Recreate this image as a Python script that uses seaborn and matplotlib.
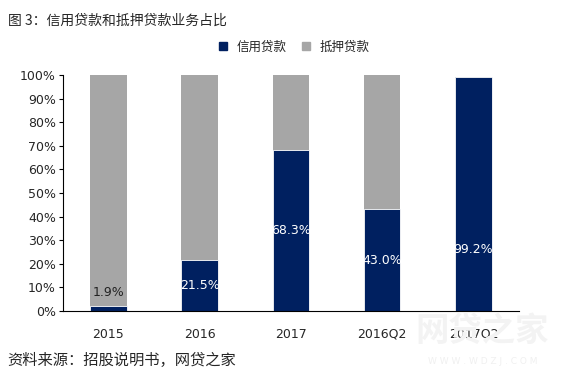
import numpy as np
import pandas as pd
import matplotlib.pyplot as plt
import seaborn as sns
from matplotlib.lines import Line2D

periods = ['2015', '2016', '2017', '2016Q2', '2017Q2']
credit = [1.9, 21.5, 68.3, 43.0, 99.2]
mortgage = [98.1, 78.5, 31.7, 57.0, 0.0]
label_text = ['1.9%', '21.5%', '68.3%', '43.0%', '99.2%']

navy = '#002060'
grey = '#A6A6A6'

sns.set_theme(style='white')
plt.rcParams['font.family'] = ['DejaVu Sans', 'Noto Sans CJK SC']

df = pd.DataFrame({'period': periods, 'credit': credit, 'mortgage': mortgage})
df['total'] = df['credit'] + df['mortgage']

fig = plt.figure(figsize=(5.71, 3.75), dpi=100)
ax = fig.add_axes([0.110, 0.171, 0.799, 0.629])

sns.barplot(data=df, x='period', y='total', color=grey, width=0.4,
            saturation=1, ax=ax, edgecolor='none')
sns.barplot(data=df, x='period', y='credit', color=navy, width=0.4,
            saturation=1, ax=ax, edgecolor='white', linewidth=0.6)

# value labels
for i, (v, t) in enumerate(zip(credit, label_text)):
    if v < 5:
        ax.text(i, v + 6, t, ha='center', va='center', fontsize=9, color='#222222')
    elif v > 90:
        ax.text(i, 26, t, ha='center', va='center', fontsize=9, color='white')
    else:
        ax.text(i, v / 2, t, ha='center', va='center', fontsize=9, color='white')

ax.set_ylim(0, 100)
ax.set_xlim(-0.5, 4.5)
ax.set_yticks(np.arange(0, 101, 10))
ax.set_yticklabels([f'{int(t)}%' for t in np.arange(0, 101, 10)])
ax.set_xlabel('')
ax.set_ylabel('')
ax.tick_params(axis='y', left=True, length=3, width=0.8, color='black', labelsize=9, pad=2)
ax.tick_params(axis='x', bottom=False, labelsize=9, pad=6)
for side in ['top', 'right']:
    ax.spines[side].set_visible(False)
for side in ['left', 'bottom']:
    ax.spines[side].set_color('black')
    ax.spines[side].set_linewidth(0.8)

handles = [Line2D([], [], marker='s', linestyle='none', color=navy, markersize=6),
           Line2D([], [], marker='s', linestyle='none', color=grey, markersize=6)]
fig.legend(handles, ['信用贷款', '抵押贷款'], loc='center', bbox_to_anchor=(0.508, 0.874),
           ncol=2, frameon=False, handletextpad=0.1, columnspacing=0.5,
           prop={'family': ['Noto Sans CJK SC'], 'size': 9})

fig.text(0.014, 0.945, '图 3：信用贷款和抵押贷款业务占比', fontsize=10,
         family=['Noto Sans CJK SC', 'DejaVu Sans'], va='center')
fig.text(0.012, 0.04, '资料来源：招股说明书，网贷之家', fontsize=11,
         family=['Noto Sans CJK SC', 'DejaVu Sans'], va='center')

# watermark
fig.text(0.845, 0.115, '网贷之家', fontsize=24, color='#f3f3f3', ha='center', va='center',
         family=['Noto Sans CJK SC'], weight='bold', zorder=0)
fig.text(0.845, 0.035, 'W W W . W D Z J . C O M', fontsize=6.5, color='#f0f0f0',
         ha='center', va='center', zorder=0)

fig.savefig('out.png', dpi=100)
